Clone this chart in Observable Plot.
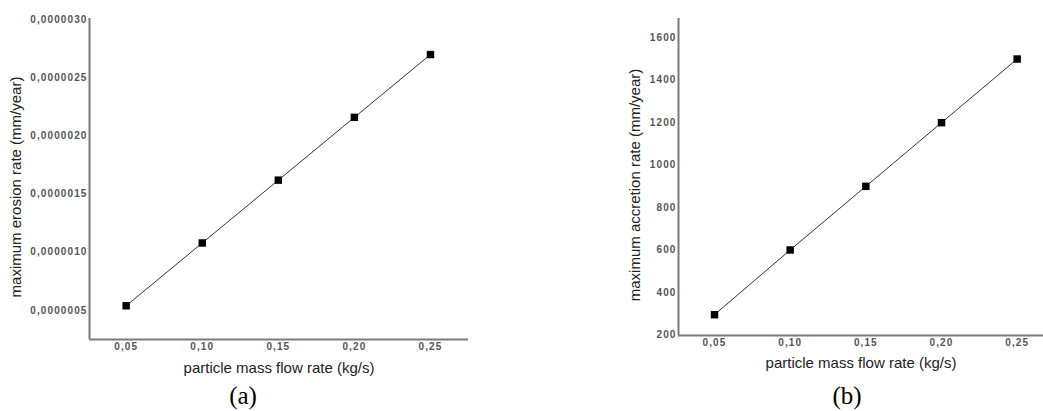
<!DOCTYPE html>
<html>
<head>
<meta charset="utf-8">
<script src="https://cdn.jsdelivr.net/npm/d3@7"></script>
<script src="https://cdn.jsdelivr.net/npm/@observablehq/plot@0.6"></script>
<style>
  html, body { margin: 0; padding: 0; background: #fff; }
  #wrap { position: relative; width: 1043px; height: 411px; overflow: hidden; background: #fff; }
  .panel { position: absolute; top: 0; }
  .panel svg { overflow: visible; }
  [aria-label$="tick label"] { font-family: "Liberation Sans", Arial, sans-serif; font-size: 10px; font-weight: bold; fill: #555; letter-spacing: 1.1px; }
  [aria-label$="axis label"] { font-family: "Liberation Sans", Arial, sans-serif; font-size: 15px; fill: #222; }
  .cap { position: absolute; font-family: "Liberation Serif", "Times New Roman", serif; font-size: 25px; color: #000; transform: translate(-50%, -50%); }
</style>
</head>
<body>
<div id="wrap">
  <div class="panel" id="pa" style="left:0px"></div>
  <div class="panel" id="pb" style="left:600px"></div>
  <div class="cap" style="left:243px; top:396px">(a)</div>
  <div class="cap" style="left:847px; top:396px">(b)</div>
</div>
<script>
// Data
const massFlow = [0.05, 0.10, 0.15, 0.20, 0.25];
const erosionRate = [0.54e-6, 1.08e-6, 1.62e-6, 2.16e-6, 2.70e-6];
const accretionRate = [295, 600, 900, 1200, 1500];
const xTicks = [0.05, 0.10, 0.15, 0.20, 0.25];
const yTicksA = [0.5e-6, 1.0e-6, 1.5e-6, 2.0e-6, 2.5e-6, 3.0e-6];
const yTicksB = [200, 400, 600, 800, 1000, 1200, 1400, 1600];

const comma = (f) => (d) => d3.format(f)(d).replace(".", ",");

function panel({values, xDomain, yDomain, yTicks, yFmt, width, height, ml, mr, mt, mb, yLabel, yLabelOffset, xLabelOffset}) {
  const data = massFlow.map((x, i) => ({x, y: values[i]}));
  return Plot.plot({
    width, height,
    marginLeft: ml, marginRight: mr, marginTop: mt, marginBottom: mb,
    x: {domain: xDomain},
    y: {domain: yDomain},
    marks: [
      Plot.axisX({ticks: xTicks, tickFormat: comma(".2f"), tickSize: 0, tickPadding: 3,
        label: "particle mass flow rate (kg/s)", labelAnchor: "center", labelArrow: "none", labelOffset: xLabelOffset}),
      Plot.axisY({ticks: yTicks, tickFormat: yFmt, tickSize: 0, tickPadding: 2, label: null}),
      Plot.text([yLabel], {frameAnchor: "left", rotate: -90, textAnchor: "middle", lineAnchor: "top",
        dx: -yLabelOffset, dy: 8, fontSize: 15, fill: "#222", fontFamily: "Liberation Sans, Arial, sans-serif"}),
      Plot.ruleX([xDomain[0]], {stroke: "#7a7a7a", strokeWidth: 2}),
      Plot.ruleY([yDomain[0]], {stroke: "#7a7a7a", strokeWidth: 2}),
      Plot.line(data, {x: "x", y: "y", stroke: "#333", strokeWidth: 1}),
      Plot.dot(data, {x: "x", y: "y", symbol: "square", r: 4.2, fill: "#000", stroke: "none"})
    ]
  });
}

document.getElementById("pa").append(panel({
  values: erosionRate,
  xDomain: [0.0259, 0.275],
  yDomain: [0.25e-6, 3.01e-6],
  yTicks: yTicksA,
  yFmt: comma(".7f"),
  width: 480, height: 380, ml: 89, mr: 12, mt: 18, mb: 41,
  yLabel: "maximum erosion rate (mm/year)", yLabelOffset: 79, xLabelOffset: 33
}));

document.getElementById("pb").append(panel({
  values: accretionRate,
  xDomain: [0.0262, 0.2674],
  yDomain: [197, 1691],
  yTicks: yTicksB,
  yFmt: d3.format("d"),
  width: 443, height: 380, ml: 78, mr: 0, mt: 18, mb: 45,
  yLabel: "maximum accretion rate (mm/year)", yLabelOffset: 49, xLabelOffset: 32
}));
</script>
</body>
</html>
